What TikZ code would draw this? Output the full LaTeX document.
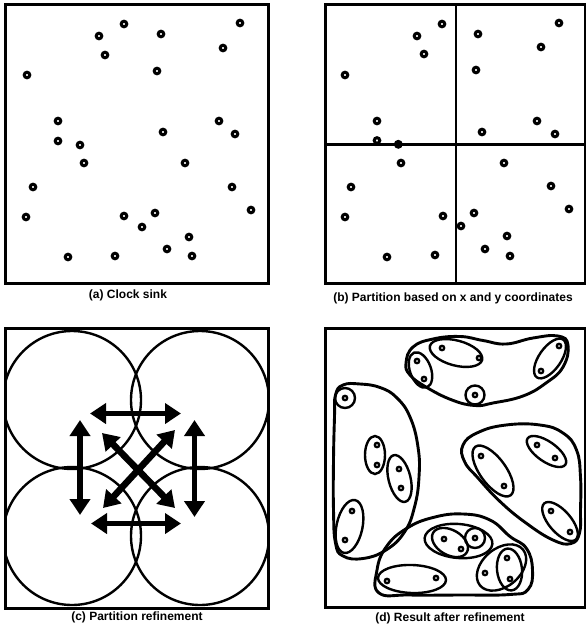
\documentclass[tikz,border=0pt]{standalone}
\usepackage{fontspec}
\setmainfont{Liberation Sans}
\usetikzlibrary{arrows.meta}
\tikzset{
  frame/.style={line width=3pt},
  divider/.style={line width=2.8pt},
  dotA/.style={line width=3pt},
  dotD/.style={line width=2.3pt},
  blob/.style={line width=2.9pt, smooth cycle, tension=0.75},
  ring/.style={line width=2.4pt},
  zone/.style={line width=2.4pt},
  bigarrow/.style={line width=5.8pt, {Triangle[width=20pt,length=16pt]}-{Triangle[width=20pt,length=16pt]}},
  caption/.style={font=\fontsize{12}{14}\selectfont\bfseries, inner sep=0pt}
}
\begin{document}
\begin{tikzpicture}[x=1pt,y=-1pt]
\useasboundingbox (0,0) rectangle (586,632);
\fill[white] (0,0) rectangle (586,632);

% ---------- (a) ----------
\draw[frame] (5,4) rectangle (268,283);
\foreach \p in {(124,24),(99,36),(161,34),(240,23),(105,55),(223,48),(27,75),(157,71),(58,121),(219,121),(163,132),(235,134),(58,141),(80,145),(84,163),(185,163),(33,187),(232,187),(26,217),(124,216),(155,213),(251,210),(142,227),(189,237),(68,257),(115,256),(167,249),(192,256)}
  \draw[dotA] \p circle (2.8);
\node[caption] (capa) at (128,295) {(a) Clock sink};

% ---------- (b) ----------
\foreach \p in {(442,24),(417,36),(478,34),(559,23),(424,54),(541,47),(345,75),(476,70),(377,121),(537,121),(482,132),(555,134),(377,140.5),(401,163),(504,163),(351,187),(551,186),(345,217),(443,216),(474,213),(569,209),(461,226),(507,236),(387,257),(435,255),(485,249),(510,256)}
  \draw[dotA] \p circle (2.8);
\draw[divider] (325,144.3) -- (585,144.3);
\draw[divider] (456,4) -- (456,283);
\fill (398.3,144.3) circle (4.5);
\draw[frame] (325,4) rectangle (585,283);
\node[caption] (capb) at (453,298) {(b) Partition based on x and y coordinates};

% ---------- (c) ----------
\draw[ring] (72,400) circle (69);
\draw[ring] (200,400) circle (69);
\draw[ring] (72,536) circle (69);
\draw[ring] (200,536) circle (69);
\fill[white] (0,320) rectangle (5,615);
\fill[white] (268,320) rectangle (275,615);
\draw[frame] (5,328) rectangle (268,608);
\coordinate (th1) at (90,413.5);  \coordinate (th2) at (181,413.5);
\coordinate (bh1) at (91,523.5);  \coordinate (bh2) at (181,523.5);
\coordinate (lv1) at (80,420);    \coordinate (lv2) at (80,515);
\coordinate (rv1) at (194.5,420); \coordinate (rv2) at (194.5,517);
\coordinate (d11) at (102,433);   \coordinate (d12) at (175,508);
\coordinate (d21) at (175,430);   \coordinate (d22) at (103,508);
\draw[bigarrow] (th1) -- (th2);
\draw[bigarrow] (bh1) -- (bh2);
\draw[bigarrow] (lv1) -- (lv2);
\draw[bigarrow] (rv1) -- (rv2);
\draw[bigarrow, line width=6.6pt] (d11) -- (d12);
\draw[bigarrow, line width=6.6pt] (d21) -- (d22);
\node[caption] (capc) at (137,617) {(c) Partition refinement};

% ---------- (d) ----------
\draw[frame] (325,328) rectangle (585,607);
% top group
\draw[blob] plot coordinates {(406,363) (413,347) (433,339) (460,336.5) (483,340.5) (506,344) (533,338) (558,336) (568,345) (563,367) (546,383) (523,396) (493,403) (475,405.5) (452,400) (426,387) (410,375)};
\draw[zone, rotate around={-15:(456,353)}] (456,353) ellipse [x radius=27, y radius=12.5];
\draw[zone, rotate around={-70:(420.5,370)}] (420.5,370) ellipse [x radius=18.5, y radius=10.5];
\draw[zone] (475,395) circle (9.5);
\draw[zone, rotate around={55:(550,358.5)}] (550,358.5) ellipse [x radius=23, y radius=11];
% left group
\draw[blob] plot coordinates {(343,385) (360,384) (380,387.5) (396.5,397.5) (410,417) (418,447) (419,477) (414.5,507) (404.5,532) (386,550) (363,558.5) (343,556) (335.5,543) (333.5,510) (333.5,460) (334.5,417) (335.5,395)};
\draw[zone] (345,398) circle (10);
\draw[zone] (375,455) ellipse [x radius=10, y radius=19];
\draw[zone, rotate around={-76:(399.5,478.5)}] (399.5,478.5) ellipse [x radius=24, y radius=11];
\draw[zone, rotate around={78:(349.5,526.5)}] (349.5,526.5) ellipse [x radius=27, y radius=13];
% right group
\draw[blob] plot coordinates {(463,445) (478,432.5) (506,425) (540,425) (563,433) (576.5,450) (580.5,477) (580.5,510) (579.5,533) (571,543.5) (553,540) (526,523) (500,501.5) (478,478) (464.5,461.5)};
\draw[zone, rotate around={-35:(546.5,451.5)}] (546.5,451.5) ellipse [x radius=23, y radius=10];
\draw[zone, rotate around={-54:(493,471)}] (493,471) ellipse [x radius=30, y radius=13];
\draw[zone, rotate around={-49:(560,521.5)}] (560,521.5) ellipse [x radius=24, y radius=11];
% bottom group
\draw[blob] plot coordinates {(379,593) (377,570) (386.5,546.5) (406.5,528.5) (433,517.5) (463,514) (490,520) (510,536.5) (526.5,548.5) (532.5,570) (528,589.5) (510,594.5) (460,595) (410,595)};
\draw[zone, rotate around={-5:(458.5,541)}] (458.5,541) ellipse [x radius=34, y radius=17];
\draw[zone, rotate around={-30:(450,542.5)}] (450,542.5) ellipse [x radius=19.5, y radius=12.5];
\draw[zone] (475,538) circle (10);
\draw[zone, rotate around={40:(501.5,567.5)}] (501.5,567.5) ellipse [x radius=28, y radius=19];
\draw[zone, rotate around={-84:(509.5,569.5)}] (509.5,569.5) ellipse [x radius=21, y radius=12.5];
\draw[zone, rotate around={-2:(412,579)}] (412,579) ellipse [x radius=34, y radius=14];
\foreach \p in {(442,348),(479,358),(417,361),(424,379),(475,395),(559,346),(541,371),(345,398),(377,445),(377,465),(399,469),(401,488),(352,511),(345,540),(537,445),(555,458),(481,456),(504,486),(551,511),(570,532),(444,539),(475,538),(461,549),(507,558),(485,573),(510,579),(387,581),(436,578)}
  \draw[dotD] \p circle (2.2);
\node[caption] (capd) at (450,618) {(d) Result after refinement};
\end{tikzpicture}
\end{document}
